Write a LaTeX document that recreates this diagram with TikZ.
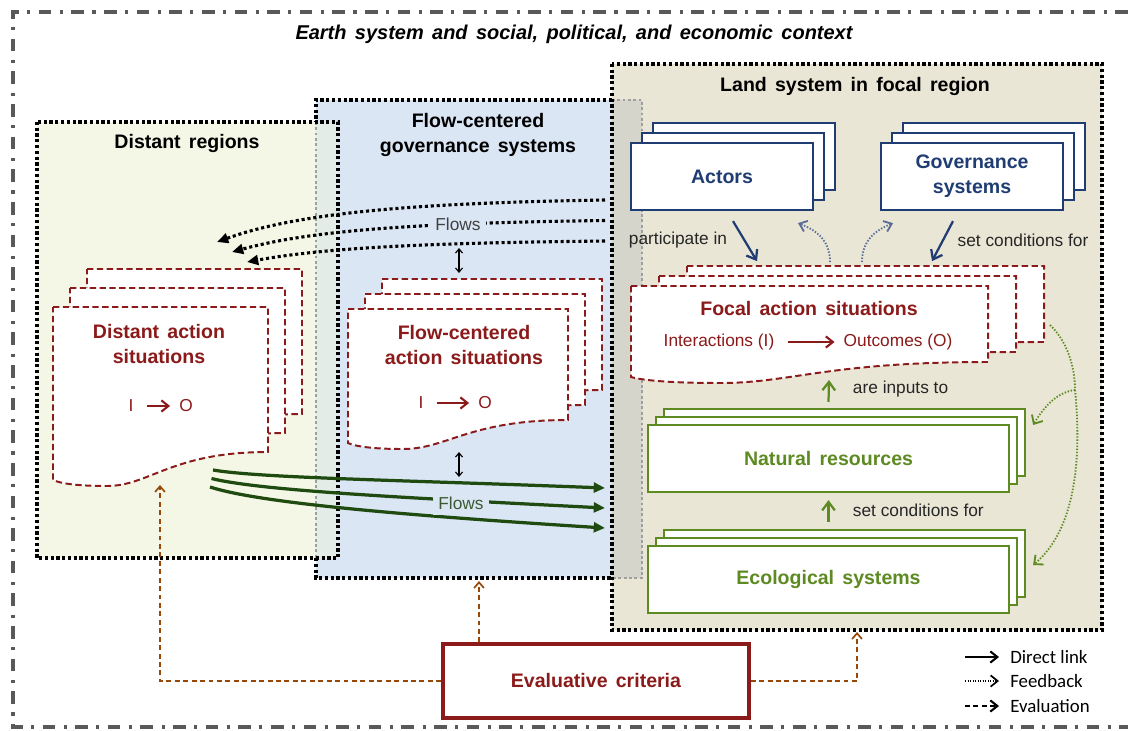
\documentclass[tikz,border=0pt]{standalone}
\usepackage{fontspec}
\setmainfont{Liberation Sans}
\newfontfamily\legendfont{Carlito}
\usetikzlibrary{arrows.meta,positioning}

\definecolor{navy}{HTML}{1F3D73}
\definecolor{darkred}{HTML}{8B1A1A}
\definecolor{leaf}{HTML}{5E8A22}
\definecolor{flowgreen}{HTML}{1F4A10}
\definecolor{evalbrown}{HTML}{984807}
\definecolor{labelgray}{HTML}{262626}
\definecolor{distfill}{HTML}{F4F7E6}
\definecolor{govfill}{HTML}{DBE6F5}
\definecolor{landfill}{HTML}{EAE6D6}
\definecolor{overlapA}{HTML}{E3ECE6}
\definecolor{overlapB}{HTML}{D6D5CB}

\newcommand{\widespace}{\spaceskip 0.42em\relax}

\tikzset{
  regionline/.style={black, line width=2.3pt, dash pattern=on 2.3pt off 1.8pt},
  innerline/.style={gray!75, line width=1.8pt, dash pattern=on 2pt off 1.8pt},
  frameline/.style={gray!70!black, line width=2.4pt, dash pattern=on 9pt off 6pt on 2.2pt off 6pt},
  heading/.style={font=\fontsize{13.9}{18}\selectfont\bfseries\widespace, align=center},
  smalltext/.style={font=\fontsize{12.3}{15}\selectfont},
  legendtxt/.style={font=\legendfont\fontsize{13.4}{15}\selectfont, inner sep=0pt},
  actbox/.style={draw=navy, line width=1.6pt, fill=white},
  resbox/.style={draw=leaf, line width=1.5pt, fill=white},
  docline/.style={draw=darkred, line width=1.4pt, dash pattern=on 4.5pt off 2.5pt, fill=white},
  direct/.style={navy, line width=1.6pt, -{Straight Barb[length=6pt,width=9pt]}},
  upgreen/.style={leaf, line width=1.6pt, -{Straight Barb[length=6pt,width=9pt]}},
  backblue/.style={navy!75, line width=1.3pt, dash pattern=on 1pt off 1.2pt, -{Straight Barb[length=5pt,width=8pt]}},
  backgreen/.style={leaf, line width=1.3pt, dash pattern=on 1pt off 1.2pt, -{Straight Barb[length=5pt,width=9pt]}},
  flowdot/.style={black, line width=2.2pt, dash pattern=on 2.2pt off 2pt, -{Triangle[length=8pt,width=7pt]}},
  flowline/.style={flowgreen, line width=2.3pt, -{Triangle[length=8pt,width=7pt]}},
  evalline/.style={evalbrown, line width=1.2pt, dash pattern=on 3.5pt off 2.5pt, -{Straight Barb[length=4pt,width=7pt]}},
  twoway/.style={black, line width=0.8pt, {Straight Barb[length=3pt,width=5pt]}-{Straight Barb[length=3pt,width=5pt]}},
  ioarrow/.style={darkred, line width=1.5pt, shorten <=6pt, shorten >=3pt, -{Straight Barb[length=5pt,width=8pt]}},
}

% one page of an action situation, wavy bottom
\newcommand{\docpage}[5]{%
  \draw[docline] ({#1},{#2}) -- ({#1+#3},{#2}) -- ({#1+#3},{#2+#4})
    .. controls ({#1+0.55*#3},{#2+#4}) and ({#1+0.45*#3},{#2+#5+6})
    .. ({#1+0.25*#3},{#2+#5+6})
    .. controls ({#1+0.1*#3},{#2+#5+6}) and ({#1+0.03*#3},{#2+#5+3})
    .. ({#1},{#2+#5}) -- cycle;}

\begin{document}
\begin{tikzpicture}[x=0.025cm, y=-0.025cm]

\useasboundingbox (0,0) rectangle (1128,730);

% regions
\node[fill=distfill, inner sep=0, outer sep=0, minimum width=7.525cm, minimum height=10.9cm] (distreg) at (187.5,340) {};
\node[fill=govfill, inner sep=0, outer sep=0, minimum width=8.15cm, minimum height=11.95cm] (govreg) at (479,339) {};
\node[fill=landfill, inner sep=0, outer sep=0, minimum width=12.25cm, minimum height=14.15cm] (landreg) at (857,347) {};

\fill[overlapA] (govreg.west |- distreg.north) rectangle (distreg.south east);
\fill[overlapB] (landreg.west |- govreg.north) rectangle (govreg.south east);

\draw[innerline] (landreg.west |- govreg.north) -- (govreg.north east) -- (govreg.south east) -- (landreg.west |- govreg.south);
\draw[innerline] (govreg.west |- distreg.north) -- (govreg.west |- distreg.south);
\draw[regionline] (landreg.west |- govreg.north) -- (govreg.north west) -- (govreg.west |- distreg.north);
\draw[regionline] (govreg.west |- distreg.south) -- (govreg.south west) -- (landreg.west |- govreg.south);
\draw[regionline] (distreg.north west) rectangle (distreg.south east);
\draw[regionline] (landreg.north west) rectangle (landreg.south east);

\node[heading, font=\fontsize{14.2}{18}\selectfont\bfseries\itshape\widespace] (earth) at (574,34) {Earth system and social, political, and economic context};
\node[heading] (distname) at (187,143) {Distant regions};
\node[heading] (govname) at (478,135) {Flow-centered\\governance systems};
\node[heading] (landname) at (855,86) {Land system in focal region};

% actors and governance systems
\foreach \i in {2,1} {
    \draw[actbox] ({631+11*\i},{143-10*\i}) rectangle ++(182,67);
    \draw[actbox] ({881+11*\i},{143-10*\i}) rectangle ++(182,67);
}
\node[actbox, heading, text=navy, minimum width=4.55cm, minimum height=1.675cm] (actors) at (722,176.5) {Actors};
\node[actbox, heading, text=navy, minimum width=4.55cm, minimum height=1.675cm] (govsys) at (972,176.5) {Governance\\systems};

% natural resources and ecological systems
\foreach \i in {2,1} {
    \draw[resbox] ({648+8*\i},{425-8*\i}) rectangle ++(361,67);
    \draw[resbox] ({648+8*\i},{546-8*\i}) rectangle ++(361,67);
}
\node[resbox, heading, text=leaf, minimum width=9.025cm, minimum height=1.675cm] (natres) at (828.5,458.5) {Natural resources};
\node[resbox, heading, text=leaf, minimum width=9.025cm, minimum height=1.675cm] (ecosys) at (828.5,579.5) {Ecological systems};

% action situations
\foreach \i in {2,1,0} {
    \docpage{53+17*\i}{307-19*\i}{215}{145}{173}
    \docpage{348+17*\i}{309-15*\i}{220}{111}{134}
    \docpage{631+28*\i}{286-10*\i}{357}{76}{91}
}
\coordinate (distAS) at (53,307);
\coordinate (flowAS) at (348,309);
\coordinate (focalAS) at (631,286);

\node[heading, text=darkred] (distAStext) at (159,344) {Distant action\\situations};
\node[smalltext, text=darkred] (dI) at (131,406) {I};
\node[smalltext, text=darkred] (dO) at (186,406) {O};
\draw[ioarrow] (dI) -- (dO);

\node[heading, text=darkred] (flowAStext) at (464,345) {Flow-centered\\action situations};
\node[smalltext, text=darkred] (fI) at (421,403) {I};
\node[smalltext, text=darkred] (fO) at (485,403) {O};
\draw[ioarrow] (fI) -- (fO);

\node[heading, text=darkred] (focalAStext) at (809,309) {Focal action situations};
\node[smalltext, text=darkred] (interact) at (719,342) {Interactions (I)};
\node[smalltext, text=darkred] (outcome) at (898,342) {Outcomes (O)};
\draw[ioarrow] (interact) -- (outcome);

% links inside the focal region
\node[smalltext, text=labelgray] (partin) at (678,240) {participate in};
\node[smalltext, text=labelgray] (setcond) at (1023,240) {set conditions for};
\node[smalltext, text=labelgray, anchor=west] (inputs) at (848,389) {are inputs to};
\node[smalltext, text=labelgray, anchor=west] (setcondB) at (848,510) {set conditions for};

\draw[direct] ([shift={(11,10)}]actors.south) -- ([shift={(35,50)}]actors.south);
\draw[direct] ([shift={(-19,10)}]govsys.south) -- ([shift={(-40,50)}]govsys.south);
\draw[backblue] ([shift={(199,-24)}]focalAS) .. controls (830,240) and (816,230) .. ([shift={(76,12)}]actors.south);
\draw[backblue] ([shift={(231,-24)}]focalAS) .. controls (862,240) and (876,230) .. ([shift={(-79,12)}]govsys.south);

\draw[upgreen] ([shift={(0,-22)}]natres.north) -- ([shift={(198,94)}]focalAS);
\draw[upgreen] ([shift={(0,-23)}]ecosys.north) -- ([shift={(0,7)}]natres.south);

\coordinate (fbsplit) at (1075,390);
\draw[backgreen, -] ([shift={(419,39)}]focalAS) .. controls (1066,340) and (1075,365) .. (fbsplit);
\draw[backgreen] (fbsplit) .. controls (1058,392) and (1045,405) .. ([shift={(23,-33.5)}]natres.east);
\draw[backgreen] (fbsplit) .. controls (1082,460) and (1075,530) .. ([shift={(23,-14.5)}]ecosys.east);

% flows between regions
\foreach \k in {0,1,2} {
    \coordinate (out\k) at (605,{200+20.5*\k});
    \coordinate (in\k) at ({217+15*\k},{242+10*\k});
    \coordinate (src\k) at ({213-1.5*\k},{470+8.5*\k});
    \coordinate (dst\k) at (605,{488+20*\k});
}
\foreach \k in {0,1,2} {
    \draw[flowdot] (out\k) .. controls (420,{203+20*\k}) and ({300+12*\k},{212+18*\k}) .. (in\k);
    \draw[flowline] (src\k) .. controls (260,{478+12.5*\k}) and (400,{480+17.5*\k}) .. (dst\k);
}
\node[smalltext, text=black!75, fill=govfill, inner sep=4pt] (flowsA) at (458,224) {Flows};
\node[smalltext, text=flowgreen!70!gray, fill=govfill, inner sep=4pt] (flowsB) at (461,503) {Flows};
\draw[twoway] ([shift={(1,24)}]flowsA.center) -- ([shift={(1,49)}]flowsA.center);
\draw[twoway] ([shift={(-2,-51)}]flowsB.center) -- ([shift={(-2,-26)}]flowsB.center);

% evaluation
\node[draw=darkred, line width=2.4pt, heading, text=darkred, minimum width=7.65cm, minimum height=1.85cm] (evalcrit) at (596,681) {Evaluative criteria};
\draw[evalline] (evalcrit.west) -| ([shift={(107,178)}]distAS);
\draw[evalline] (evalcrit.north -| govreg.south) -- ([shift={(0,3)}]govreg.south);
\draw[evalline] (evalcrit.east) -| ([shift={(0,2)}]landreg.south);

% legend
\node[legendtxt, anchor=west] (lgdirect) at (1010,657) {Direct link};
\node[legendtxt, anchor=west] (lgfeed) at (1010,681) {Feedback};
\node[legendtxt, anchor=west] (lgeval) at (1010,706) {Evaluation};
\draw[black, line width=1.5pt, -{Straight Barb[length=5pt,width=8pt]}] ([shift={(-45,0)}]lgdirect.west) -- ([shift={(-11,0)}]lgdirect.west);
\draw[black, line width=1.2pt, dash pattern=on 0.8pt off 1pt, -{Straight Barb[length=5pt,width=8pt]}] ([shift={(-45,0)}]lgfeed.west) -- ([shift={(-11,0)}]lgfeed.west);
\draw[black, line width=1.5pt, dash pattern=on 3.5pt off 2.5pt, -{Straight Barb[length=5pt,width=8pt]}] ([shift={(-45,0)}]lgeval.west) -- ([shift={(-11,0)}]lgeval.west);

% outer frame
\draw[frameline] (1128,12) -- (13,12) -- (13,727) -- (1128,727);

\end{tikzpicture}
\end{document}
